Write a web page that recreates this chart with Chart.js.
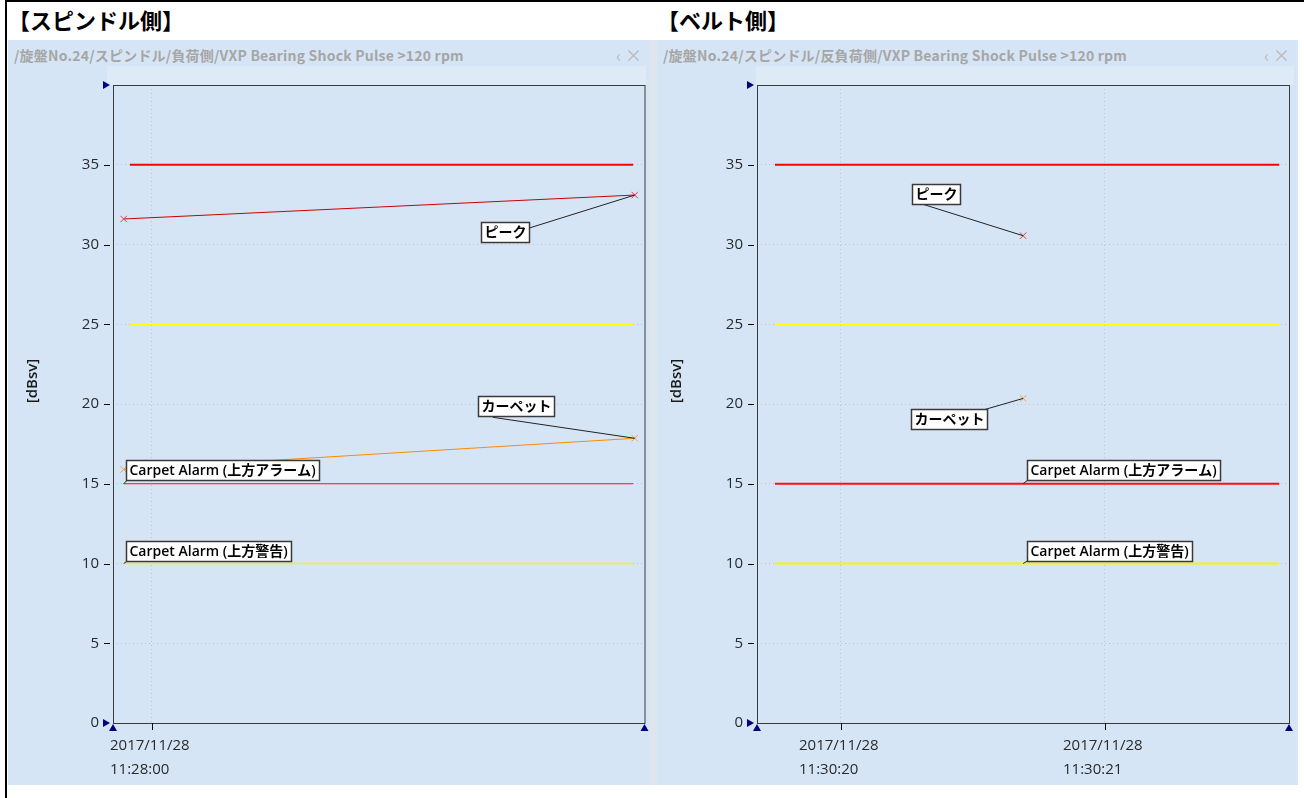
<!DOCTYPE html>
<html>
<head>
<meta charset="utf-8">
<script src="https://cdn.jsdelivr.net/npm/chart.js@4.4.0/dist/chart.umd.min.js"></script>
<style>
  html, body { margin: 0; padding: 0; background: #fff; }
  body { width: 1304px; height: 798px; position: relative; overflow: hidden; font-family: "Noto Sans CJK JP", sans-serif; }
  #frame { position: absolute; left: 5px; top: 0; width: 1299px; height: 798px; border-left: 2px solid #000; border-top: 2px solid #000; box-sizing: border-box; }
  .head { position: absolute; top: 3px; font-weight: bold; font-size: 22px; line-height: 32px; color: #000; }
  .panel { position: absolute; top: 40px; height: 745px; background: #d6e5f5; }
  .path { position: absolute; left: 6px; top: 5px; font-size: 14px; font-weight: bold; color: #a6a6a6; white-space: nowrap; letter-spacing: 0.2px; }
  .btn { position: absolute; right: 8px; top: 2px; font-size: 17px; color: #b8b8b8; }
  .strip { position: absolute; top: 26px; left: 99px; right: 4px; height: 19px; background: #dfeaf7; }
  .gap { position: absolute; left: 650px; top: 40px; width: 7px; height: 745px; background: #dfe5ec; }
  canvas { position: absolute; left: 0; top: 0; }
</style>
</head>
<body>
<div id="frame"></div>
<div class="head" style="left:8px">【スピンドル側】</div>
<div class="head" style="left:657px">【ベルト側】</div>

<div class="panel" style="left:8px;width:642px">
  <div class="path">/旋盤No.24/スピンドル/負荷側/VXP Bearing Shock Pulse &gt;120 rpm</div>
  <div class="btn">‹ ×</div>
  <div class="strip"></div>
  <canvas id="spindle" width="642" height="745"></canvas>
</div>
<div class="gap"></div>
<div class="panel" style="left:657px;width:641px">
  <div class="path">/旋盤No.24/スピンドル/反負荷側/VXP Bearing Shock Pulse &gt;120 rpm</div>
  <div class="btn">‹ ×</div>
  <div class="strip"></div>
  <canvas id="belt" width="641" height="745"></canvas>
</div>

<script>
// ---- data ----
// y axis (dBsv)
const yMin = 0;
const yMax = 40;
const yStep = 5;

// alarm levels
const peakAlarm = 35;     // red
const peakWarn = 25;      // yellow
const carpetAlarm = 15;   // red
const carpetWarn = 10;    // yellow

// スピンドル側: time in seconds after 2017/11/28 11:28:00
const spindleTimes = [-2.9, 49.6];
const spindlePeak = [31.6, 33.1];
const spindleCarpet = [15.9, 17.85];
const spindleRange = [-4, 50.6];
const spindleTicks = [0];
const spindleTickLabels = [['2017/11/28', '11:28:00']];
const spindleAlarmSpan = [-2.26, 49.44];

// ベルト側: time in seconds after 2017/11/28 11:30:00
const beltTimes = [20.69];
const beltPeak = [30.55];
const beltCarpet = [20.35];
const beltRange = [19.682, 21.697];
const beltTicks = [20, 21];
const beltTickLabels = [['2017/11/28', '11:30:20'], ['2017/11/28', '11:30:21']];
const beltAlarmSpan = [19.75, 21.66];

const yTitle = '[dBsv]';
const peakLabel = 'ピーク';
const carpetLabel = 'カーペット';
const alarmLabel = 'Carpet Alarm (上方アラーム)';
const warnLabel = 'Carpet Alarm (上方警告)';

// ---- drawing ----
const tickFont = { family: '"Open Sans", "Noto Sans CJK JP"', size: 15 };
const noteFont = '600 14px "Open Sans", "Noto Sans CJK JP"';
const gridColor = 'rgba(175,182,192,0.75)';

function pts(xs, ys) {
  return xs.map((x, i) => ({ x: x, y: ys[i] }));
}
function level(span, v) {
  return [{ x: span[0], y: v }, { x: span[1], y: v }];
}

const decor = {
  id: 'decor',
  afterDraw(chart, args, opts) {
    const { ctx, chartArea: a, scales: { x, y } } = chart;
    const line = (x1, y1, x2, y2) => { ctx.beginPath(); ctx.moveTo(x1, y1); ctx.lineTo(x2, y2); ctx.stroke(); };
    const tri = (p) => { ctx.beginPath(); ctx.moveTo(p[0], p[1]); ctx.lineTo(p[2], p[3]); ctx.lineTo(p[4], p[5]); ctx.closePath(); ctx.fill(); };
    ctx.save();

    // plot frame
    ctx.strokeStyle = '#3a3a3a';
    ctx.lineWidth = 1;
    ctx.strokeRect(a.left + 0.5, a.top + 0.5, a.right - a.left, a.bottom - a.top);

    // tick dashes
    ctx.strokeStyle = '#000';
    y.ticks.forEach(t => {
      if (t.value > yMin && t.value < yMax) {
        const py = Math.round(y.getPixelForValue(t.value)) + 0.5;
        line(a.left - 9, py, a.left - 3, py);
      }
    });
    // x ticks with left-aligned two-line labels
    ctx.fillStyle = '#2a2a2a';
    ctx.font = '15px "Open Sans"';
    ctx.textAlign = 'left';
    ctx.textBaseline = 'middle';
    x.ticks.forEach((t, i) => {
      const px = Math.round(x.getPixelForValue(t.value)) + 0.5;
      line(px, a.bottom, px, a.bottom + 7);
      opts.tickLabels[i].forEach((s, k) => ctx.fillText(s, px - 42.5, a.bottom + 23 + k * 24));
    });

    // axis end markers
    ctx.fillStyle = '#00007f';
    const yt = Math.round(y.getPixelForValue(yMax));
    const yb = Math.round(y.getPixelForValue(yMin));
    tri([a.left - 10, yt - 4, a.left - 3, yt, a.left - 10, yt + 4]);
    tri([a.left - 10, yb - 4, a.left - 3, yb, a.left - 10, yb + 4]);
    tri([a.left - 4, a.bottom + 8, a.left, a.bottom + 1, a.left + 4, a.bottom + 8]);
    tri([a.right - 4, a.bottom + 8, a.right, a.bottom + 1, a.right + 4, a.bottom + 8]);

    // y title
    ctx.fillStyle = '#1a1a1a';
    ctx.font = '600 15px "Open Sans"';
    ctx.textAlign = 'center';
    ctx.translate(a.left - 80, a.top + (a.bottom - a.top) * 0.464);
    ctx.rotate(-Math.PI / 2);
    ctx.fillText(yTitle, 0, 0);
    ctx.setTransform(1, 0, 0, 1, 0, 0);

    // callouts
    ctx.font = noteFont;
    ctx.textAlign = 'left';
    opts.notes.forEach(n => {
      const px = x.getPixelForValue(n.x);
      const py = y.getPixelForValue(n.y);
      const w = Math.ceil(ctx.measureText(n.text).width) + 6;
      const bx = Math.round(px + n.box[0]) + 0.5;
      const by = Math.round(py + n.box[1]) + 0.5;
      ctx.strokeStyle = '#222';
      ctx.lineWidth = 1;
      line(px + n.lead[0], py + n.lead[1], px, py);
      ctx.fillStyle = '#fff';
      ctx.fillRect(bx, by, w, 20);
      ctx.strokeStyle = '#3a3a3a';
      ctx.lineWidth = 1.5;
      ctx.strokeRect(bx, by, w, 20);
      ctx.fillStyle = '#000';
      ctx.fillText(n.text, bx + 3, by + 10.5);
    });
    ctx.restore();
  }
};

function makeChart(id, cfg) {
  return new Chart(document.getElementById(id), {
    type: 'line',
    data: {
      datasets: [
        { data: level(cfg.alarmSpan, peakAlarm), borderColor: '#ff0000', borderWidth: cfg.widths[0], pointRadius: 0 },
        { data: level(cfg.alarmSpan, peakWarn), borderColor: '#ffff00', borderWidth: cfg.widths[1], pointRadius: 0 },
        { data: level(cfg.lowSpan, carpetAlarm), borderColor: '#ff1010', borderWidth: cfg.widths[2], pointRadius: 0 },
        { data: level(cfg.lowSpan, carpetWarn), borderColor: '#f5f500', borderWidth: cfg.widths[3], pointRadius: 0 },
        { data: pts(cfg.times, cfg.peak), borderColor: '#cc0000', borderWidth: 1,
          pointStyle: 'crossRot', pointRadius: 4.5, pointBorderColor: '#e03a3a', pointBorderWidth: 1 },
        { data: pts(cfg.times, cfg.carpet), borderColor: '#ff8a00', borderWidth: 1,
          pointStyle: 'crossRot', pointRadius: 4.5, pointBorderColor: '#f0a040', pointBorderWidth: 1 }
      ]
    },
    options: {
      responsive: false,
      animation: false,
      devicePixelRatio: 1,
      layout: { padding: { left: 0, top: 45, right: cfg.padRight, bottom: 0 } },
      plugins: {
        legend: { display: false },
        tooltip: { enabled: false },
        decor: { notes: cfg.notes, tickLabels: cfg.tickLabels }
      },
      scales: {
        x: {
          type: 'linear',
          min: cfg.range[0],
          max: cfg.range[1],
          afterBuildTicks: s => { s.ticks = cfg.ticks.map(v => ({ value: v })); },
          afterFit: s => { s.height = 62; },
          grid: { color: gridColor, drawTicks: false },
          border: { display: false, dash: [1, 3] },
          ticks: { display: false }
        },
        y: {
          min: yMin,
          max: yMax,
          afterFit: s => { s.width = cfg.axisWidth; },
          grid: { color: gridColor, drawTicks: false },
          border: { display: false, dash: [1, 3] },
          ticks: {
            stepSize: yStep, padding: 14, color: '#2a2a2a', font: tickFont,
            callback: v => (v === yMax ? '' : v)
          }
        }
      }
    },
    plugins: [decor]
  });
}

makeChart('spindle', {
  times: spindleTimes, peak: spindlePeak, carpet: spindleCarpet,
  range: spindleRange, ticks: spindleTicks, tickLabels: spindleTickLabels,
  alarmSpan: spindleAlarmSpan, lowSpan: [spindleTimes[0], spindleAlarmSpan[1]],
  widths: [2, 2, 1, 1.5], axisWidth: 105, padRight: 5,
  notes: [
    { text: peakLabel, x: spindleTimes[1], y: spindlePeak[1], box: [-154, 27], lead: [-112, 35] },
    { text: carpetLabel, x: spindleTimes[1], y: spindleCarpet[1], box: [-157, -42], lead: [-142, -21] },
    { text: alarmLabel, x: spindleTimes[0], y: carpetAlarm, box: [2, -24], lead: [3, -3] },
    { text: warnLabel, x: spindleTimes[0], y: carpetWarn, box: [2, -23], lead: [3, -2] }
  ]
});

makeChart('belt', {
  times: beltTimes, peak: beltPeak, carpet: beltCarpet,
  range: beltRange, ticks: beltTicks, tickLabels: beltTickLabels,
  alarmSpan: beltAlarmSpan, lowSpan: beltAlarmSpan,
  widths: [2, 2, 2, 2], axisWidth: 100, padRight: 9,
  notes: [
    { text: peakLabel, x: beltTimes[0], y: beltPeak[0], box: [-111, -52], lead: [-102, -32] },
    { text: carpetLabel, x: beltTimes[0], y: beltCarpet[0], box: [-112, 11], lead: [-38, 11] },
    { text: alarmLabel, x: beltTimes[0], y: carpetAlarm, box: [4, -24], lead: [5, -4] },
    { text: warnLabel, x: beltTimes[0], y: carpetWarn, box: [4, -23], lead: [5, -3] }
  ]
});
</script>
</body>
</html>
